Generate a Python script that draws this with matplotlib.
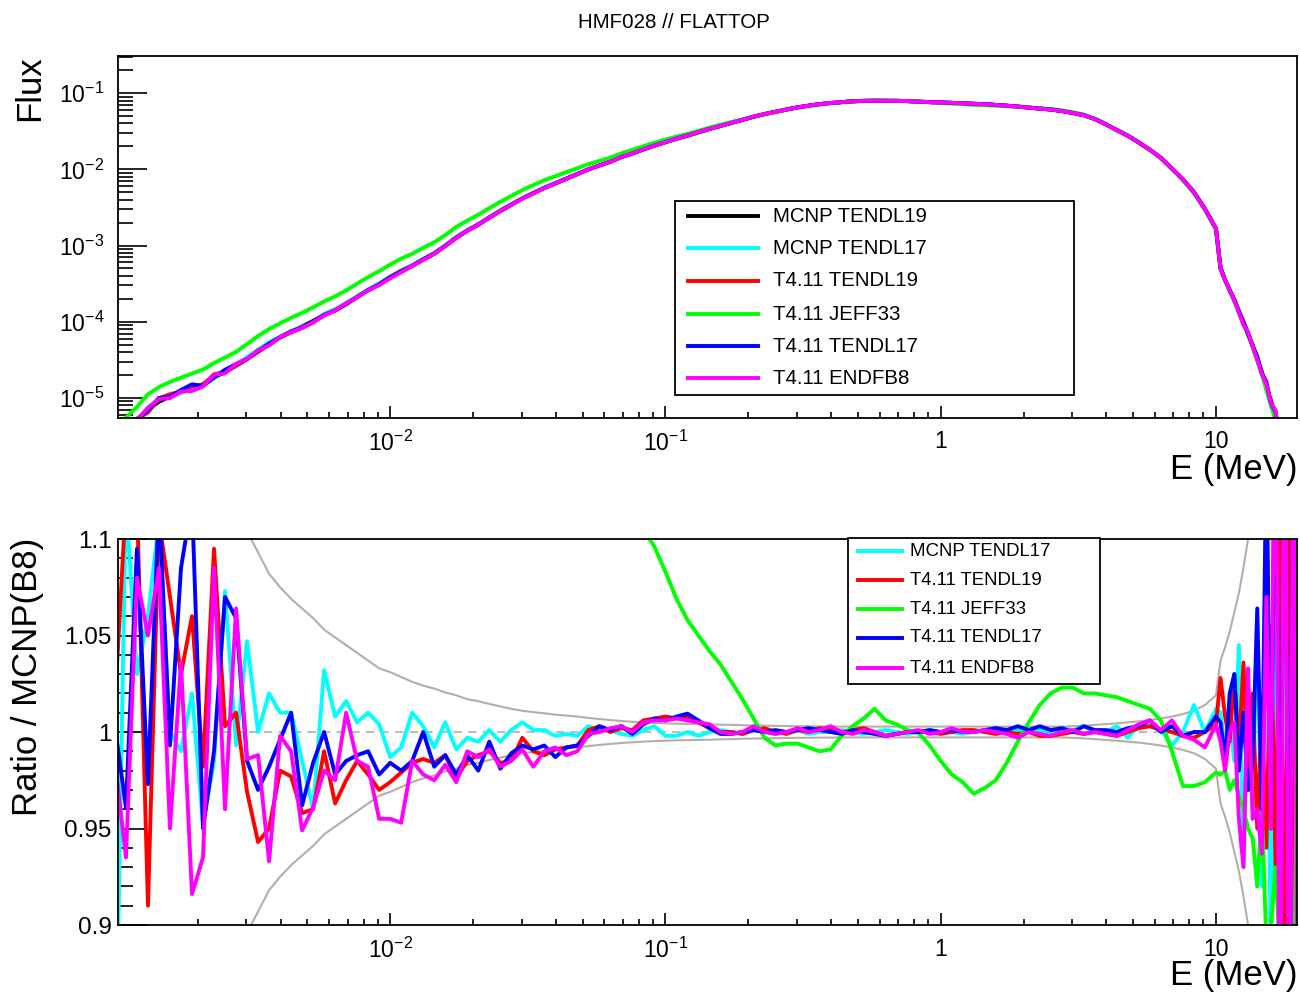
import numpy as np
import matplotlib
matplotlib.use("Agg")
import matplotlib.pyplot as plt
from matplotlib.lines import Line2D
from matplotlib.patches import Rectangle
from matplotlib.ticker import FixedLocator, FuncFormatter, LogLocator, MultipleLocator, NullFormatter

plt.rcParams['font.family'] = ['Liberation Sans', 'DejaVu Sans']
plt.rcParams['mathtext.fontset'] = 'custom'
plt.rcParams['mathtext.rm'] = 'Liberation Sans'
plt.rcParams['mathtext.it'] = 'Liberation Sans:italic'
plt.rcParams['mathtext.bf'] = 'Liberation Sans:bold'

# ---------------- data ----------------
# energy bins: 25 per decade up to 10 MeV, 60 per decade above
energy_low = np.logspace(-3, 1, 101)
energy_high = np.logspace(1, 1.3, 19)[1:]
energy = np.concatenate([energy_low, energy_high])

# log10 of reference flux (MCNP TENDL19 / reference curve)
ref_log_flux = [
    -5.6, -5.45, -5.32, -5.15, -5.05, -4.98, -4.93, -4.87, -4.82, -4.73,
    -4.66, -4.58, -4.48, -4.37, -4.28, -4.20, -4.13, -4.06, -3.99, -3.91,
    -3.84, -3.76, -3.67, -3.58, -3.50, -3.41, -3.33, -3.26, -3.18, -3.10,
    -3.00, -2.89, -2.80, -2.72, -2.63, -2.54, -2.46, -2.38, -2.31, -2.24,
    -2.18, -2.12, -2.06, -2.00, -1.95, -1.90, -1.84, -1.79, -1.74, -1.69,
    -1.645, -1.60, -1.56, -1.515, -1.47, -1.43, -1.39, -1.35, -1.31, -1.275,
    -1.245, -1.215, -1.187, -1.165, -1.145, -1.13, -1.118, -1.108, -1.102, -1.100,
    -1.100, -1.101, -1.105, -1.112, -1.118, -1.123, -1.128, -1.134, -1.14, -1.146,
    -1.155, -1.165, -1.177, -1.19, -1.203, -1.215, -1.235, -1.26, -1.29, -1.34,
    -1.41, -1.485, -1.56, -1.65, -1.745, -1.85, -1.99, -2.13, -2.30, -2.52, -2.78,
    -3.30, -3.45, -3.59, -3.72, -3.86, -4.01, -4.15, -4.31, -4.48, -4.66,
    -4.85, -5.05, -5.26, -5.5, -5.75, -6.0, -6.3, -6.6,
]

# ratios to MCNP(B8)
ratio_mcnp_tendl17 = [
    0.80, 1.12, 1.03, 1.06, 1.11, 1.00, 0.99, 1.02, 0.952, 0.985,
    1.073, 0.993, 1.047, 1.00, 1.02, 1.01, 1.01, 0.985, 0.96, 1.032,
    1.008, 1.016, 1.005, 1.01, 1.004, 0.987, 0.992, 1.01, 1.003, 0.992,
    1.005, 0.991, 0.997, 0.995, 1.001, 0.995, 1.001, 1.005, 1.001, 1.001,
    0.998, 0.999, 0.998, 1.003, 1.001, 1.001, 0.999, 0.998, 1.001, 1.003,
    0.998, 0.998, 1.0, 0.998, 1.0, 1.001,
    1.0, 0.999, 1.001, 1.0, 0.999, 1.0, 1.001, 0.999, 1.0, 1.0,
    1.001, 1.0, 0.999, 1.0, 1.001, 1.0, 0.999, 1.0, 1.001, 1.0,
    1.0, 0.999, 1.0, 1.001, 1.0, 1.0, 1.001, 1.002, 1.001, 1.0,
    1.002, 1.001, 1.003, 1.0,
    1.0, 1.003, 0.997, 1.004, 1.003, 1.001, 0.993, 1.0, 1.014, 1.0, 1.012,
    1.01, 0.99, 1.005, 0.985, 1.045, 0.93, 1.02, 0.96, 1.06, 0.92,
    1.068, 0.88, 1.05, 0.85, 1.15, 0.80, 1.2, 0.75,
]

ratio_t4_tendl19 = [
    1.015, 1.12, 1.12, 0.91, 1.11, 1.07, 1.03, 1.06, 0.982, 1.095,
    1.003, 1.01, 0.969, 0.943, 0.95, 0.98, 0.977, 0.958, 0.96, 0.99,
    0.963, 0.975, 0.985, 0.978, 0.97, 0.974, 0.979, 0.984, 0.986, 0.984,
    0.988, 0.976, 0.985, 0.988, 0.99, 0.984, 0.985, 0.997, 0.99, 0.988,
    0.991, 0.992, 0.993, 1.001, 1.003, 1.0, 1.002, 1.001, 1.006, 1.007,
    1.008, 1.007, 1.008, 1.005, 1.002, 1.0,
    1.0, 0.999, 1.001, 1.002, 1.0, 0.999, 1.001, 1.0, 1.002, 1.001,
    1.0, 1.001, 1.002, 1.0, 0.998, 0.999, 1.0, 1.0, 1.0, 0.999,
    1.0, 1.001, 1.001, 1.0, 0.999, 1.0, 0.999, 1.0, 0.998, 0.998,
    0.999, 1.0, 0.999, 1.0,
    0.999, 0.998, 1.0, 1.002, 1.003, 1.001, 1.0, 0.998, 0.997, 1.0, 1.004,
    1.028, 1.008, 0.995, 1.03, 0.99, 1.036, 0.97, 1.02, 0.95, 1.01,
    0.94, 1.055, 0.93, 1.10, 0.85, 1.20, 0.80, 1.15,
]

ratio_t4_jeff33 = [
    1.62, 1.55, 1.60, 1.58, 1.56, 1.55, 1.57, 1.55, 1.56, 1.54,
    1.55, 1.53, 1.54, 1.52, 1.53, 1.51, 1.52, 1.50, 1.51, 1.50,
    1.49, 1.48, 1.48, 1.47, 1.46, 1.45, 1.44, 1.42, 1.41, 1.39,
    1.37, 1.36, 1.34, 1.33, 1.32, 1.30, 1.29, 1.28, 1.27, 1.25,
    1.23, 1.21, 1.19, 1.17, 1.15, 1.135, 1.12, 1.11, 1.105, 1.096,
    1.083, 1.069, 1.058, 1.05, 1.042, 1.035, 1.026, 1.017, 1.007, 0.997,
    0.993, 0.994, 0.994, 0.992, 0.99, 0.991, 0.998, 1.003, 1.007, 1.012,
    1.006, 1.004, 1.001, 0.9995, 0.993, 0.985, 0.978, 0.974, 0.968, 0.971,
    0.975, 0.984, 0.995, 1.005, 1.014, 1.02, 1.023, 1.023, 1.02, 1.02,
    1.019, 1.018, 1.016, 1.014, 1.012, 1.006, 0.99, 0.972, 0.972, 0.974, 0.979,
    0.978, 0.98, 0.97, 0.975, 0.967, 0.96, 0.95, 0.945, 0.92, 0.96,
    0.89, 0.90, 0.93, 0.88, 0.85, 0.82, 0.85, 1.08,
]

ratio_t4_tendl17 = [
    1.003, 0.961, 1.095, 0.973, 1.12, 0.993, 1.085, 1.12, 0.95, 0.99,
    1.07, 1.059, 0.985, 0.97, 0.982, 0.996, 1.01, 0.962, 0.984, 1.0,
    0.978, 0.985, 0.988, 0.99, 0.978, 0.984, 0.98, 0.985, 1.0, 0.982,
    0.988, 0.978, 0.988, 0.98, 0.995, 0.981, 0.989, 0.993, 0.991, 0.993,
    0.987, 0.992, 0.993, 0.998, 1.003, 1.001, 1.003, 0.999, 1.004, 1.007,
    1.006, 1.008, 1.0095, 1.006, 1.002, 0.999,
    0.999, 1.0, 1.001, 1.0, 1.001, 1.0, 1.001, 1.002, 1.001, 1.0,
    0.999, 1.001, 1.0, 0.999, 0.998, 0.999, 1.0, 1.0, 1.001, 1.0,
    1.001, 1.0, 1.0, 1.001, 1.002, 1.001, 1.003, 1.001, 1.003, 1.001,
    1.002, 1.0, 1.003, 1.001,
    1.001, 1.0, 1.002, 1.003, 1.006, 1.0, 1.003, 0.998, 1.0, 1.0, 1.008,
    1.005, 0.985, 1.02, 1.03, 0.98, 1.01, 0.97, 0.985, 1.064, 0.96,
    1.15, 0.95, 1.2, 0.85, 1.25, 0.78, 1.3, 0.8,
]

ratio_t4_endfb8 = [
    0.985, 0.935, 1.08, 1.05, 1.085, 0.95, 1.036, 0.916, 0.935, 1.085,
    0.96, 1.064, 0.986, 0.988, 0.933, 0.998, 0.99, 0.949, 0.961, 0.98,
    0.975, 1.01, 0.985, 0.982, 0.955, 0.955, 0.953, 0.985, 0.978, 0.975,
    0.983, 0.974, 0.99, 0.987, 0.991, 0.982, 0.985, 0.991, 0.982, 0.99,
    0.992, 0.988, 0.99, 0.999, 1.0, 1.002, 1.003, 1.0, 1.005, 1.006,
    1.006, 1.007, 1.006, 1.005, 1.004, 1.0,
    0.999, 1.0, 1.003, 1.0, 0.999, 1.0, 1.002, 1.0, 1.001, 1.003,
    1.0, 0.999, 1.001, 1.0, 0.998, 0.999, 1.0, 1.001, 0.999, 1.0,
    1.002, 1.0, 1.0, 1.001, 1.0, 0.999, 0.997, 1.0, 0.999, 0.998,
    1.0, 1.001, 0.999, 1.0,
    0.999, 0.998, 1.001, 1.004, 1.006, 1.001, 1.006, 0.998, 0.996, 0.992, 1.004,
    0.995, 0.98, 1.0, 1.005, 0.955, 0.93, 1.033, 0.955, 0.96, 0.937,
    1.07, 0.95, 1.25, 0.75, 1.3, 0.7, 1.3, 0.7,
]

# relative statistical uncertainty of the reference (band = 1 +/- sigma)
ref_sigma = [
    0.30, 0.28, 0.26, 0.24, 0.22, 0.20, 0.185, 0.17, 0.158, 0.146,
    0.135, 0.118, 0.104, 0.093, 0.082, 0.075, 0.069, 0.064, 0.059, 0.053,
    0.049, 0.045, 0.041, 0.037, 0.033, 0.031, 0.0285, 0.026, 0.024, 0.0225,
    0.0205, 0.019, 0.017, 0.016, 0.0145, 0.0133, 0.012, 0.011, 0.0103, 0.0097,
    0.009, 0.0085, 0.008, 0.0073, 0.0067, 0.0062, 0.0057, 0.0053, 0.005, 0.0047,
    0.0045, 0.0043, 0.0042, 0.0041, 0.004, 0.0038, 0.0037, 0.0035, 0.0034, 0.0033,
    0.0032, 0.0031, 0.003, 0.003, 0.0029, 0.0029, 0.0028, 0.0028, 0.0028, 0.0028,
    0.0028, 0.0028, 0.0028, 0.0028, 0.0028, 0.0028, 0.0028, 0.0028, 0.0028, 0.0028,
    0.0028, 0.0028, 0.0028, 0.0028, 0.0028, 0.0028, 0.0028, 0.003, 0.0033, 0.0037,
    0.0041, 0.0045, 0.005, 0.0055, 0.0062, 0.007, 0.008, 0.0093, 0.011, 0.014, 0.019,
    0.037, 0.044, 0.052, 0.062, 0.072, 0.085, 0.10, 0.12, 0.14, 0.16,
    0.19, 0.22, 0.25, 0.30, 0.35, 0.40, 0.45, 0.50,
]

top_labels = ['MCNP TENDL19', 'MCNP TENDL17', 'T4.11 TENDL19', 'T4.11 JEFF33',
              'T4.11 TENDL17', 'T4.11 ENDFB8']
ratio_labels = top_labels[1:]
title_text = 'HMF028 // FLATTOP'

# ---------------- style ----------------
colors = {'MCNP TENDL19': '#000000', 'MCNP TENDL17': '#00ffff', 'T4.11 TENDL19': '#ff0000',
          'T4.11 JEFF33': '#00ff00', 'T4.11 TENDL17': '#0000ff', 'T4.11 ENDFB8': '#ff00ff'}
ratios = {'MCNP TENDL17': ratio_mcnp_tendl17, 'T4.11 TENDL19': ratio_t4_tendl19,
          'T4.11 JEFF33': ratio_t4_jeff33, 'T4.11 TENDL17': ratio_t4_tendl17,
          'T4.11 ENDFB8': ratio_t4_endfb8}
LW = 2.8
BAND_COLOR = '#b8ada4'

W, H = 1300, 996
fig = plt.figure(figsize=(W / 100, H / 100), dpi=100)


def fx(x):
    return x / W


def fy(y):
    return 1 - y / H


ax1 = fig.add_axes([fx(118), fy(418), (1297 - 118) / W, (418 - 56) / H])
ax2 = fig.add_axes([fx(118), fy(925), (1297 - 118) / W, (925 - 539) / H])

xlim = (1.026e-3, 19.7)

# ---------------- top: flux ----------------
energy = np.asarray(energy)
ref_flux = 10 ** np.asarray(ref_log_flux)
ax1.plot(energy, ref_flux, color=colors['MCNP TENDL19'], lw=LW)
for lab in ratio_labels:
    ax1.plot(energy, ref_flux * np.asarray(ratios[lab]), color=colors[lab], lw=LW)
ax1.set_xscale('log')
ax1.set_yscale('log')
ax1.set_xlim(*xlim)
ax1.set_ylim(5.46e-6, 0.307)

# ---------------- bottom: ratio ----------------
sig = np.asarray(ref_sigma)
ax2.plot(energy, 1 + sig, color=BAND_COLOR, lw=1.5, zorder=1)
ax2.plot(energy, 1 - sig, color=BAND_COLOR, lw=1.5, zorder=1)
ax2.axhline(1.0, color='#bcbcbc', lw=1.5, ls=(0, (4, 3)), zorder=1.5)
for lab in ratio_labels:
    ax2.plot(energy, ratios[lab], color=colors[lab], lw=LW, zorder=2)
ax2.set_xscale('log')
ax2.set_xlim(*xlim)
ax2.set_ylim(0.9, 1.1)

# ---------------- axes styling ----------------
xfmt = {0.01: r'$10^{-2}$', 0.1: r'$10^{-1}$', 1.0: '1', 10.0: '10'}
for ax in (ax1, ax2):
    for s in ax.spines.values():
        s.set_linewidth(1.3)
        s.set_color('black')
    ax.xaxis.set_major_locator(FixedLocator([0.01, 0.1, 1.0, 10.0]))
    ax.xaxis.set_major_formatter(FuncFormatter(lambda v, p: xfmt.get(round(v, 6), '')))
    ax.xaxis.set_minor_locator(LogLocator(base=10, subs=np.arange(2, 10), numticks=20))
    ax.xaxis.set_minor_formatter(NullFormatter())
    ax.tick_params(axis='x', which='major', direction='in', length=8.6, width=1.2,
                   top=False, labelsize=16.5, pad=9)
    ax.tick_params(axis='x', which='minor', direction='in', length=4.3, width=1.2, top=False)
    ax.tick_params(axis='y', which='major', direction='in', length=21, width=1.2,
                   right=False, labelsize=16.5)
    ax.tick_params(axis='y', which='minor', direction='in', length=10.8, width=1.2, right=False)

yfmt = {-5: r'$10^{-5}$', -4: r'$10^{-4}$', -3: r'$10^{-3}$', -2: r'$10^{-2}$', -1: r'$10^{-1}$'}
ax1.yaxis.set_major_locator(FixedLocator([1e-5, 1e-4, 1e-3, 1e-2, 1e-1]))
ax1.yaxis.set_major_formatter(FuncFormatter(lambda v, p: yfmt.get(int(round(np.log10(v))), '')))
ax1.yaxis.set_minor_locator(LogLocator(base=10, subs=np.arange(2, 10), numticks=20))
ax1.yaxis.set_minor_formatter(NullFormatter())
ax1.tick_params(axis='y', which='major', pad=10)

ax2.yaxis.set_major_locator(MultipleLocator(0.05))
ax2.yaxis.set_minor_locator(MultipleLocator(0.01))
ax2.yaxis.set_major_formatter(FuncFormatter(lambda v, p: f'{v:g}'))
ax2.tick_params(axis='y', which='major', pad=4.5, labelsize=17.5)

# ---------------- texts ----------------
fig.text(fx(674), fy(23), title_text, ha='center', va='center', fontsize=14.8)
fig.text(fx(30), fy(55), 'Flux', rotation=90, ha='center', va='top', fontsize=25)
fig.text(fx(28), fy(538), 'Ratio / MCNP(B8)', rotation=90, ha='center', va='top', fontsize=25)
fig.text(fx(1297), fy(469), 'E (MeV)', ha='right', va='center', fontsize=25)
fig.text(fx(1297), fy(975), 'E (MeV)', ha='right', va='center', fontsize=25)


def draw_legend(box, rows_y, line_x, text_x, labels, fs):
    x0, y0, x1, y1 = box
    fig.add_artist(Rectangle((fx(x0), fy(y1)), (x1 - x0) / W, (y1 - y0) / H,
                             transform=fig.transFigure, facecolor='white',
                             edgecolor='black', lw=1.3, zorder=5))
    for yy, lab in zip(rows_y, labels):
        fig.add_artist(Line2D([fx(line_x[0]), fx(line_x[1])], [fy(yy), fy(yy)],
                              transform=fig.transFigure, color=colors[lab], lw=LW, zorder=6))
        fig.text(fx(text_x), fy(yy), lab, fontsize=fs, ha='left', va='center', zorder=6)


draw_legend((675, 201, 1074, 395), [216, 248, 281, 314, 346, 378], (688, 758), 773,
            top_labels, 14.7)
draw_legend((848, 538, 1100, 684), [551, 580, 609, 638, 668], (858, 902), 910,
            ratio_labels, 13.4)

fig.savefig('out.png', dpi=100)
